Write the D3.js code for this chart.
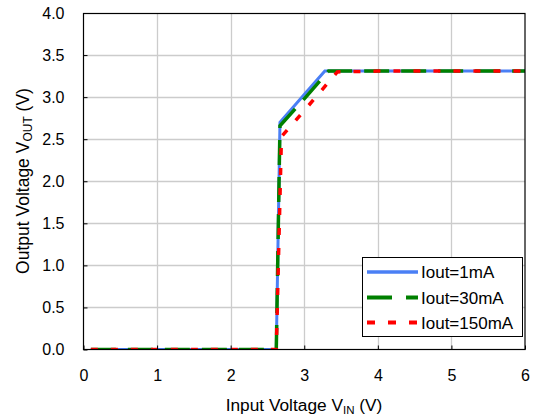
<!DOCTYPE html>
<html>
<head>
<meta charset="utf-8">
<script src="https://cdn.jsdelivr.net/npm/d3@7"></script>
<style>
  html, body { margin: 0; padding: 0; background: #fff; }
  svg { display: block; font-family: "Liberation Sans", Arial, sans-serif; }
</style>
</head>
<body>
<svg id="chart" width="536" height="418"></svg>
<script>
// ---- data ----
const xTicks = [0, 1, 2, 3, 4, 5, 6];
const yTicks = [0, 0.5, 1.0, 1.5, 2.0, 2.5, 3.0, 3.5, 4.0];

const seriesNames = ["Iout=1mA", "Iout=30mA", "Iout=150mA"];

const vin1mA   = [0.1, 1.0, 2.0, 2.62, 2.67, 3.0, 3.28, 4.0, 5.0, 6.0];
const vout1mA  = [0, 0, 0, 0, 2.70, 3.03, 3.31, 3.31, 3.31, 3.31];

const vin30mA  = [0.1, 1.0, 2.0, 2.62, 2.67, 3.0, 3.33, 4.0, 5.0, 6.0];
const vout30mA = [0, 0, 0, 0, 2.66, 2.98, 3.31, 3.31, 3.31, 3.31];

const vin150mA  = [0.1, 1.0, 2.0, 2.62, 2.69, 3.0, 3.45, 4.0, 5.0, 6.0];
const vout150mA = [0, 0, 0, 0, 2.53, 2.84, 3.30, 3.31, 3.31, 3.31];

// ---- layout ----
const svg = d3.select("#chart");
const L = 83.5, R = 525, T = 13, B = 349.5;

const x = d3.scaleLinear().domain([0, 6]).range([L, R]);
const y = d3.scaleLinear().domain([0, 4]).range([B, T]);

const styles = [
  { color: "#4a7ff5", width: 3,   dash: null },
  { color: "#008000", width: 3.5, dash: "25,12" },
  { color: "#ff0000", width: 3.5, dash: "7,13" }
];

const series = [
  vin1mA.map((v, i) => [v, vout1mA[i]]),
  vin30mA.map((v, i) => [v, vout30mA[i]]),
  vin150mA.map((v, i) => [v, vout150mA[i]])
];

// gridlines
const grid = svg.append("g");
grid.selectAll("line.v").data(xTicks.slice(1, -1)).enter().append("line")
  .attr("x1", d => Math.round(x(d)) + 0.5).attr("x2", d => Math.round(x(d)) + 0.5)
  .attr("y1", T).attr("y2", B)
  .attr("stroke", "#cccccc").attr("stroke-width", 1.3);
grid.selectAll("line.h").data(yTicks.slice(1, -1)).enter().append("line")
  .attr("x1", L).attr("x2", R)
  .attr("y1", d => Math.round(y(d)) + 0.5).attr("y2", d => Math.round(y(d)) + 0.5)
  .attr("stroke", "#cccccc").attr("stroke-width", 1.3);

// clip
svg.append("clipPath").attr("id", "plotclip").append("rect")
  .attr("x", L).attr("y", T).attr("width", R - L).attr("height", B - T);

const line = d3.line().x(d => x(d[0])).y(d => y(d[1]));
const lines = svg.append("g").attr("clip-path", "url(#plotclip)");
series.forEach((s, i) => {
  lines.append("path").datum(s)
    .attr("d", line)
    .attr("fill", "none")
    .attr("stroke", styles[i].color)
    .attr("stroke-width", styles[i].width)
    .attr("stroke-dasharray", styles[i].dash)
    .attr("stroke-linejoin", "miter");
});

// axes
const xAxis = d3.axisBottom(x).tickValues(xTicks).tickFormat(d3.format("d"))
  .tickSizeInner(-4).tickSizeOuter(0).tickPadding(20);
const yAxis = d3.axisLeft(y).tickValues(yTicks).tickFormat(d3.format(".1f"))
  .tickSizeInner(-4).tickSizeOuter(0).tickPadding(19);

const gx = svg.append("g").attr("transform", `translate(0,${B})`).call(xAxis);
const gy = svg.append("g").attr("transform", `translate(${L},0)`).call(yAxis);
[gx, gy].forEach(g => {
  g.select(".domain").remove();
  g.selectAll(".tick line").attr("stroke", "#000").attr("stroke-width", 1);
  g.selectAll(".tick text").attr("fill", "#000").attr("font-size", 16)
    .attr("font-family", "Liberation Sans, Arial, sans-serif");
});

// frame
svg.append("rect").attr("x", L).attr("y", T + 0.5).attr("width", R - L).attr("height", B - T - 0.5)
  .attr("fill", "none").attr("stroke", "#000").attr("stroke-width", 1.2);

// axis titles
const xt = svg.append("text").attr("x", 304).attr("y", 411).attr("text-anchor", "middle")
  .attr("font-size", 17.3).attr("fill", "#000");
xt.append("tspan").text("Input Voltage V");
xt.append("tspan").attr("font-size", 11.5).attr("dy", 3).text("IN");
xt.append("tspan").attr("dy", -3).text(" (V)");

const yt = svg.append("text").attr("transform", "translate(29,181) rotate(-90)")
  .attr("text-anchor", "middle").attr("font-size", 17.5).attr("fill", "#000");
yt.append("tspan").text("Output Voltage V");
yt.append("tspan").attr("font-size", 12).attr("dy", 3).text("OUT");
yt.append("tspan").attr("dy", -3).text(" (V)");

// legend
const lg = svg.append("g");
lg.append("rect").attr("x", 362.5).attr("y", 257.5).attr("width", 160).attr("height", 79)
  .attr("fill", "#fff").attr("stroke", "#000").attr("stroke-width", 1);
const rowY = [272, 297.5, 322.5];
seriesNames.forEach((name, i) => {
  lg.append("line").attr("x1", 367).attr("x2", 418).attr("y1", rowY[i]).attr("y2", rowY[i])
    .attr("stroke", styles[i].color).attr("stroke-width", styles[i].width + 0.5)
    .attr("stroke-dasharray", i === 1 ? "25,14" : (i === 2 ? "8,13" : null));
  lg.append("text").attr("x", 421).attr("y", rowY[i]).attr("dy", "0.36em")
    .attr("font-size", 17).attr("fill", "#000").text(name);
});
</script>
</body>
</html>
